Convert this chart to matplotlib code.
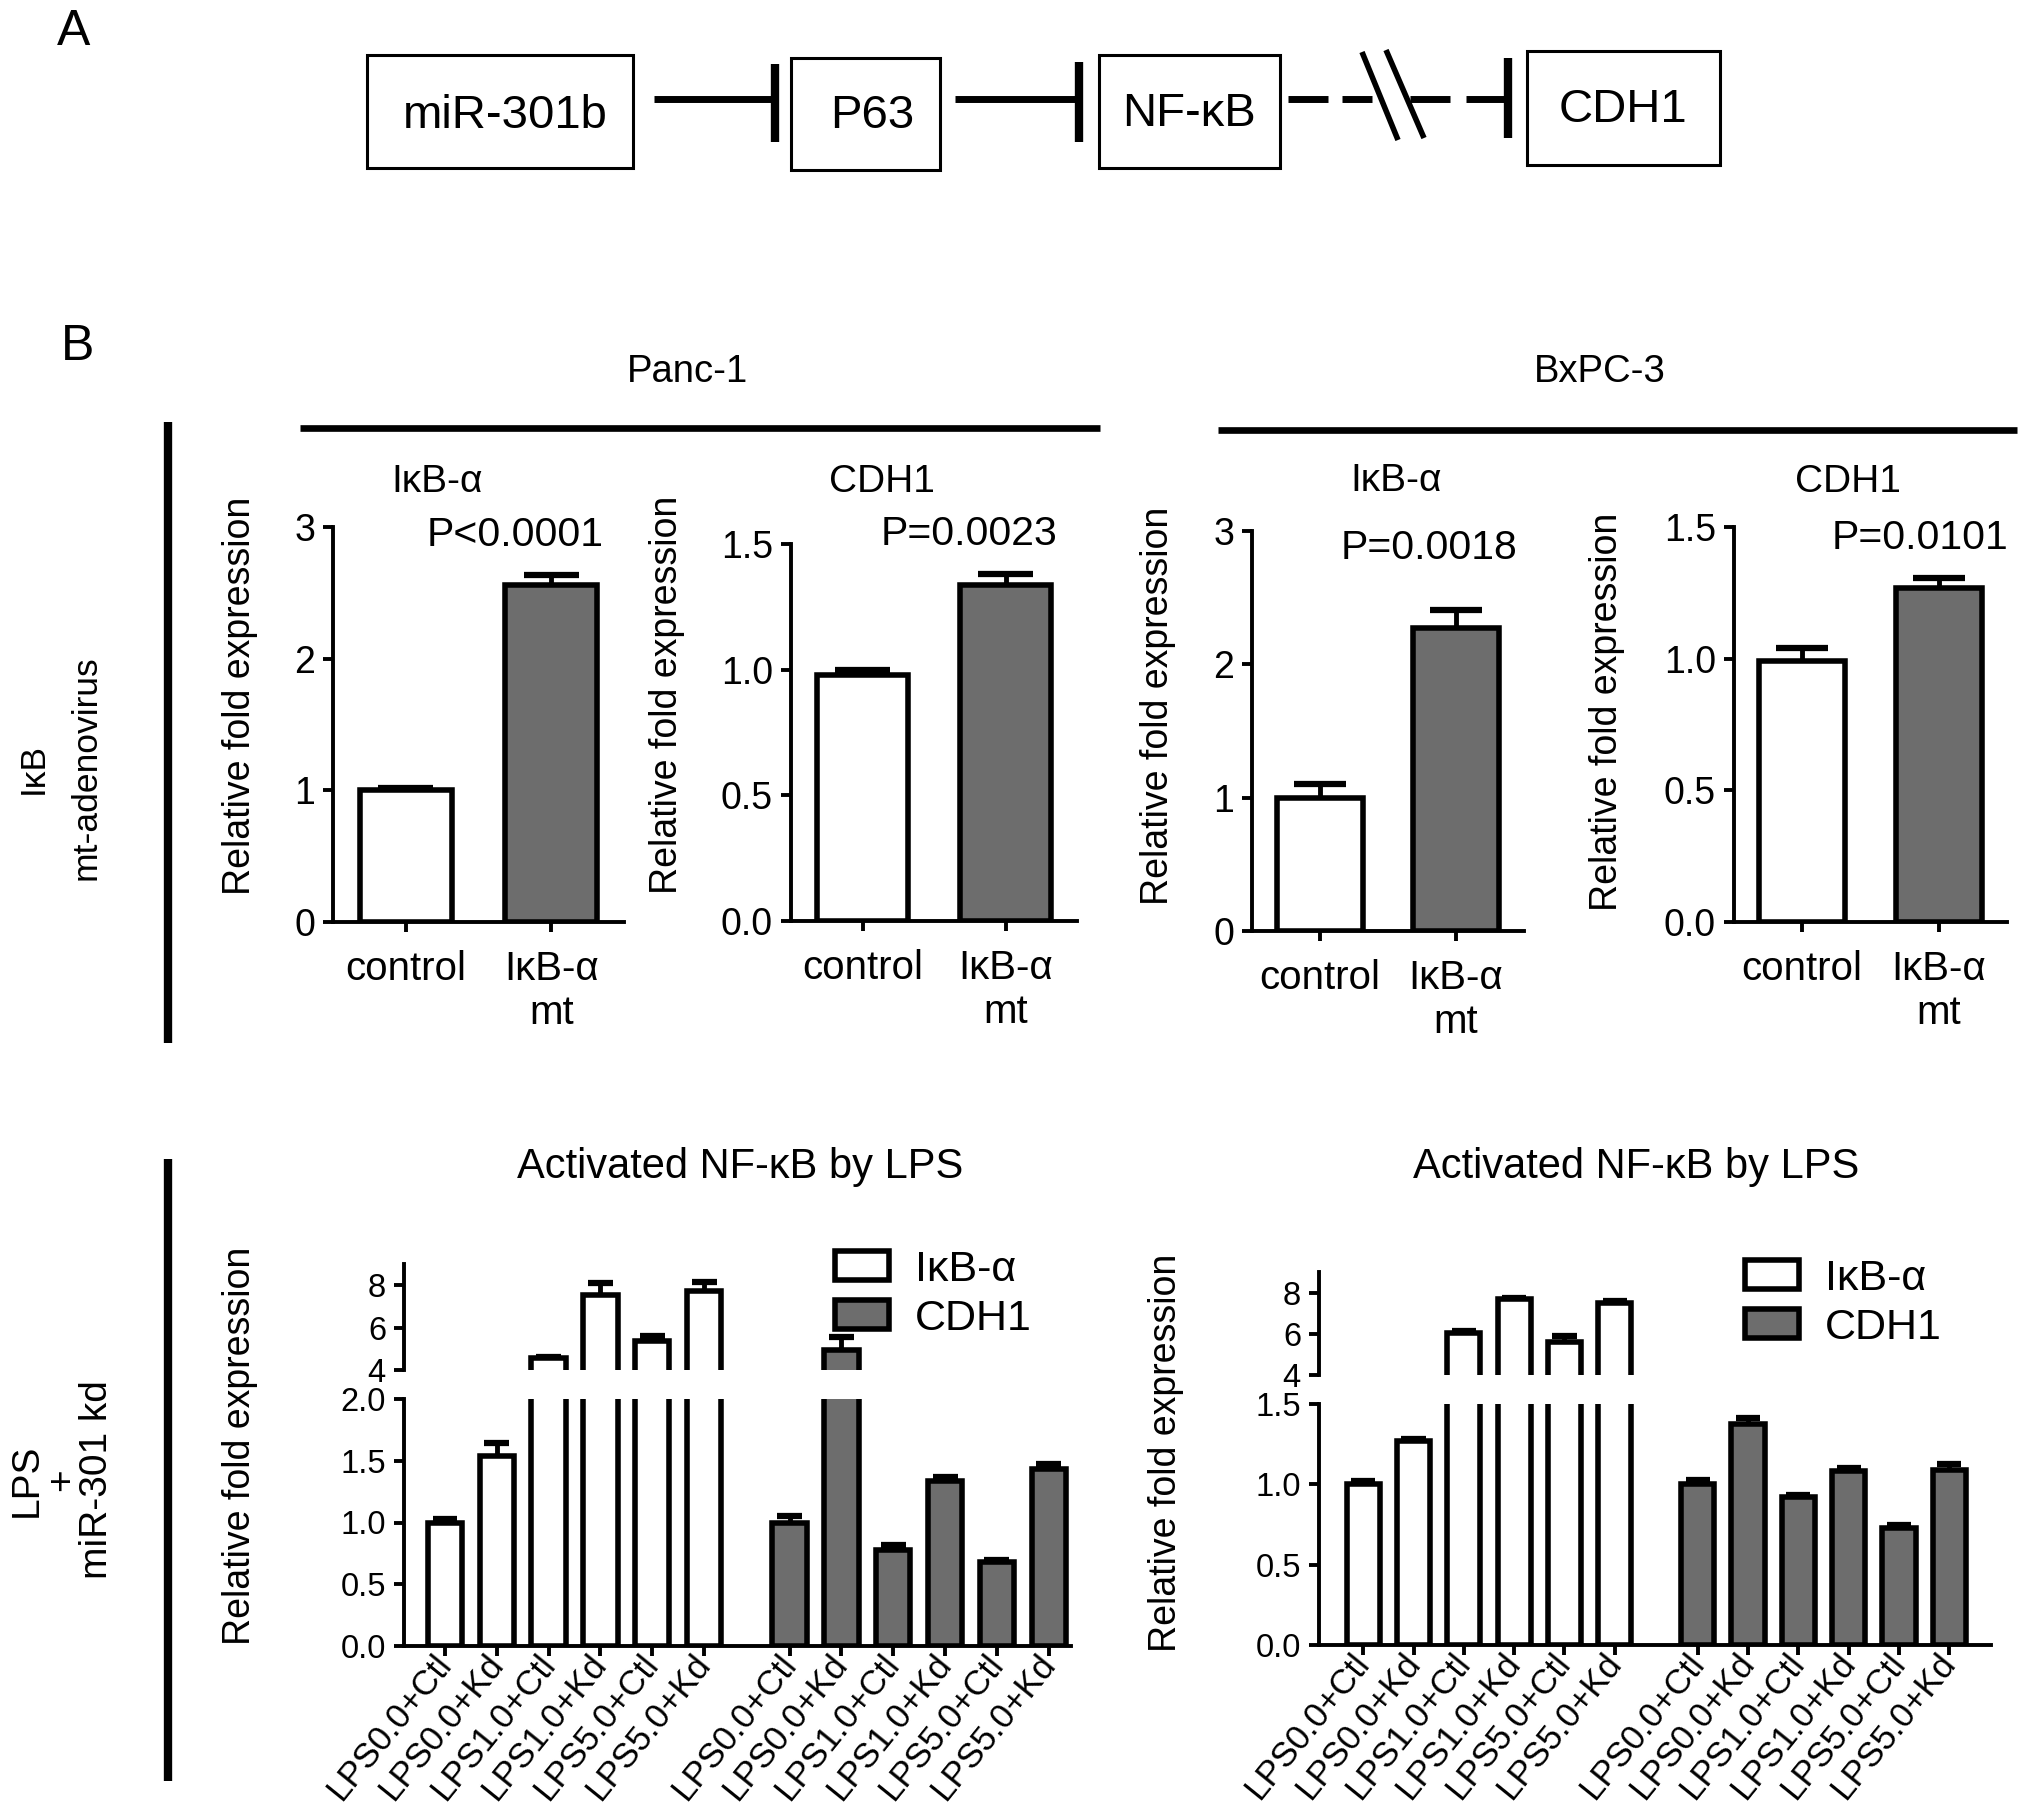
import matplotlib

matplotlib.use("Agg")
import matplotlib.pyplot as plt
from matplotlib.patches import Patch, Rectangle

W, H = 2031, 1812
DPI = 100

SANS = "Liberation Sans"
plt.rcParams["font.family"] = [SANS, "DejaVu Sans"]

GRAY = "#6d6d6d"
EDGE_LW = 4.0
SPINE_LW = 2.8

# ---------------- data ----------------
top_groups = ["control", "IκB-α\nmt"]
top_titles = ["IκB-α", "CDH1", "IκB-α", "CDH1"]
p_values = ["P<0.0001", "P=0.0023", "P=0.0018", "P=0.0101"]

panc_ikba = [1.00, 2.56]
panc_ikba_err = [0.02, 0.075]
panc_cdh1 = [0.98, 1.335]
panc_cdh1_err = [0.02, 0.045]
bx_ikba = [1.00, 2.27]
bx_ikba_err = [0.10, 0.14]
bx_cdh1 = [0.99, 1.27]
bx_cdh1_err = [0.05, 0.035]

lps_labels = ["LPS0.0+Ctl", "LPS0.0+Kd", "LPS1.0+Ctl", "LPS1.0+Kd", "LPS5.0+Ctl", "LPS5.0+Kd"]
panc_lps_ikba = [1.00, 1.535, 4.58, 7.54, 5.37, 7.73]
panc_lps_ikba_err = [0.03, 0.11, 0.05, 0.55, 0.23, 0.44]
panc_lps_cdh1 = [1.00, 4.94, 0.78, 1.34, 0.68, 1.43]
panc_lps_cdh1_err = [0.05, 0.64, 0.04, 0.025, 0.02, 0.045]
bx_lps_ikba = [1.00, 1.27, 6.02, 7.67, 5.60, 7.50]
bx_lps_ikba_err = [0.02, 0.01, 0.13, 0.08, 0.27, 0.10]
bx_lps_cdh1 = [1.00, 1.375, 0.92, 1.084, 0.73, 1.09]
bx_lps_cdh1_err = [0.03, 0.035, 0.015, 0.02, 0.015, 0.035]

pathway = ["miR-301b", "P63", "NF-κB", "CDH1"]

fig = plt.figure(figsize=(W / DPI, H / DPI), dpi=DPI)

# overlay in pixel coordinates for diagram / panel furniture
ov = fig.add_axes([0, 0, 1, 1])
ov.set_xlim(0, W)
ov.set_ylim(H, 0)
ov.axis("off")


def px_axes(x0, x1, ytop, ybot):
    return fig.add_axes([x0 / W, 1 - ybot / H, (x1 - x0) / W, (ybot - ytop) / H])


def style(ax, fs):
    for s in ("top", "right"):
        ax.spines[s].set_visible(False)
    for s in ("left", "bottom"):
        ax.spines[s].set_linewidth(SPINE_LW)
    ax.tick_params(direction="out", length=7, width=SPINE_LW, labelsize=fs, pad=6)
    ax.patch.set_alpha(0)


def draw_bars(ax, x, vals, errs, colors, width, cap):
    ax.bar(x, vals, width=width, color=colors, edgecolor="black", linewidth=EDGE_LW, zorder=3)
    tops = [v + e for v, e in zip(vals, errs)]
    ax.vlines(x, vals, tops, color="black", linewidth=3.5, zorder=2)
    ax.hlines(tops, [xi - cap for xi in x], [xi + cap for xi in x], color="black", linewidth=4.5, zorder=2)


# ---------------- panel A ----------------
ov.text(74, 32, "A", fontsize=36, ha="center", va="center")
boxes = [(367, 633, 55, 168), (791, 940, 58, 170), (1099, 1280, 55, 168), (1527, 1720, 51, 165)]
box_text = [(505, 116), (872, 116), (1189, 114), (1623, 110)]
for (x0, x1, y0, y1), (tx, ty), name in zip(boxes, box_text, pathway):
    ov.add_patch(Rectangle((x0, y0), x1 - x0, y1 - y0, fill=False, edgecolor="black", linewidth=2.2))
    ov.text(tx, ty, name, fontsize=34, ha="center", va="center")
ov.plot([654, 775], [99, 99], color="black", lw=5, solid_capstyle="butt")
ov.plot([775, 775], [64, 142], color="black", lw=6, solid_capstyle="butt")
ov.plot([955, 1079], [99, 99], color="black", lw=5, solid_capstyle="butt")
ov.plot([1079, 1079], [62, 142], color="black", lw=6, solid_capstyle="butt")
for a, b in [(1288, 1328), (1342, 1372), (1410, 1450), (1466, 1506)]:
    ov.plot([a, b], [99, 99], color="black", lw=5, solid_capstyle="butt")
ov.plot([1362, 1398], [52, 140], color="black", lw=4, solid_capstyle="butt")
ov.plot([1386, 1424], [50, 138], color="black", lw=4, solid_capstyle="butt")
ov.plot([1508, 1508], [58, 138], color="black", lw=6, solid_capstyle="butt")

# ---------------- panel B furniture ----------------
ov.text(78, 347, "B", fontsize=36, ha="center", va="center")
ov.text(687, 372, "Panc-1", fontsize=27.5, ha="center", va="center")
ov.text(1600, 372, "BxPC-3", fontsize=27.5, ha="center", va="center")
ov.plot([300, 1100], [428, 428], color="black", lw=4.8, solid_capstyle="butt")
ov.plot([1218, 2017], [430, 430], color="black", lw=4.8, solid_capstyle="butt")
ov.plot([168, 168], [422, 1043], color="black", lw=6, solid_capstyle="butt")
ov.plot([168, 168], [1159, 1781], color="black", lw=6, solid_capstyle="butt")
ov.text(60, 768, "IκB\nmt-adenovirus", fontsize=25.5, rotation=90, ha="center", va="center",
        multialignment="center", linespacing=1.75)
ov.text(62, 1480, "LPS\n+\nmiR-301 kd", fontsize=28, rotation=90, ha="center", va="center",
        multialignment="center", linespacing=0.98)

# ---------------- top row: IκB-α mt-adenovirus ----------------
top_specs = [
    # x0, x1, ytop, ybot, ymax, ticks, fmt, values, errs, title pos, p pos, ylabel pos
    (333, 624, 527, 922, 3.0, [0, 1, 2, 3], "{:.0f}", panc_ikba, panc_ikba_err, (437, 482), (515, 535), (258, 696)),
    (791, 1077, 544, 921, 1.5, [0, 0.5, 1.0, 1.5], "{:.1f}", panc_cdh1, panc_cdh1_err, (882, 482), (969, 534), (685, 695)),
    (1252, 1524, 531, 931, 3.0, [0, 1, 2, 3], "{:.0f}", bx_ikba, bx_ikba_err, (1396, 481), (1429, 548), (1176, 706)),
    (1734, 2007, 527, 922, 1.5, [0, 0.5, 1.0, 1.5], "{:.1f}", bx_cdh1, bx_cdh1_err, (1848, 482), (1920, 538), (1625, 712)),
]
for i, (x0, x1, yt, yb, ymax, ticks, fmt, vals, errs, tpos, ppos, lpos) in enumerate(top_specs):
    ax = px_axes(x0, x1, yt, yb)
    style(ax, 27)
    draw_bars(ax, [0, 1], vals, errs, ["white", GRAY], 0.63, 0.19)
    ax.set_xlim(-0.5, 1.5)
    ax.set_ylim(0, ymax)
    ax.spines["left"].set_bounds(0, ymax)
    ax.set_yticks(ticks)
    ax.set_yticklabels([fmt.format(t) for t in ticks])
    ax.set_xticks([0, 1])
    ax.set_xticklabels(top_groups, fontsize=29, linespacing=1.2)
    ax.tick_params(axis="x", pad=13)
    ax.set_ylabel("Relative fold expression", fontsize=27)
    ax.yaxis.set_label_coords((lpos[0] - x0) / (x1 - x0), (yb - lpos[1]) / (yb - yt))
    ov.text(tpos[0], tpos[1], top_titles[i], fontsize=28, ha="center", va="center")
    ov.text(ppos[0], ppos[1], p_values[i], fontsize=29.5, ha="center", va="center")


# ---------------- bottom row: LPS + miR-301 kd ----------------
x_ikba = [0, 1, 2, 3, 4, 5]
x_cdh1 = [6.65, 7.65, 8.65, 9.65, 10.65, 11.65]

bottom_specs = [
    # x0, x1, upper(top,bottom), lower(top,bottom), lower max, lower ticks, xlim, data, title, ylabel, legend
    (404, 1071, (1264, 1370), (1399, 1646), 2.0, [0, 0.5, 1.0, 1.5, 2.0], (-0.79, 12.08),
     (panc_lps_ikba, panc_lps_ikba_err, panc_lps_cdh1, panc_lps_cdh1_err), (740, 1167), (258, 1446), (835, 1250)),
    (1319, 1991, (1272, 1375), (1404, 1645), 1.5, [0, 0.5, 1.0, 1.5], (-0.88, 12.48),
     (bx_lps_ikba, bx_lps_ikba_err, bx_lps_cdh1, bx_lps_cdh1_err), (1636, 1167), (1184, 1453), (1745, 1259)),
]
for x0, x1, (ut, ub), (lt, lb), lmax, lticks, xlim, (ik, ike, cd, cde), tpos, lpos, legpos in bottom_specs:
    lo = px_axes(x0, x1, lt, lb)
    up = px_axes(x0, x1, ut, ub)
    for ax in (lo, up):
        style(ax, 23.5)
        draw_bars(ax, x_ikba, ik, ike, "white", 0.66, 0.24)
        draw_bars(ax, x_cdh1, cd, cde, GRAY, 0.66, 0.24)
        ax.set_xlim(*xlim)
    lo.set_ylim(0, lmax)
    lo.spines["left"].set_bounds(0, lmax)
    lo.set_yticks(lticks)
    lo.set_yticklabels([f"{t:.1f}" for t in lticks])
    lo.set_xticks(x_ikba + x_cdh1)
    lo.set_xticklabels(lps_labels + lps_labels, rotation=51, ha="right", va="center",
                       rotation_mode="anchor", fontsize=25)
    lo.tick_params(axis="x", pad=2)
    up.set_ylim(4, 9)
    up.spines["left"].set_bounds(4, 9)
    up.spines["bottom"].set_visible(False)
    up.set_yticks([4, 6, 8])
    up.set_xticks([])
    lo.set_ylabel("Relative fold expression", fontsize=27)
    lo.yaxis.set_label_coords((lpos[0] - x0) / (x1 - x0), (lb - lpos[1]) / (lb - lt))
    ov.text(tpos[0], tpos[1], "Activated NF-κB by LPS", fontsize=30, ha="center", va="center")
    handles = [Patch(facecolor="white", edgecolor="black", linewidth=EDGE_LW),
               Patch(facecolor=GRAY, edgecolor="black", linewidth=EDGE_LW)]
    fig.legend(handles, ["IκB-α", "CDH1"], loc="upper left",
               bbox_to_anchor=(legpos[0] / W, 1 - legpos[1] / H), frameon=False,
               fontsize=31, borderpad=0, borderaxespad=0, handlelength=1.25,
               handleheight=0.66, handletextpad=0.6, labelspacing=0.2)

fig.savefig("out.png", dpi=DPI)
